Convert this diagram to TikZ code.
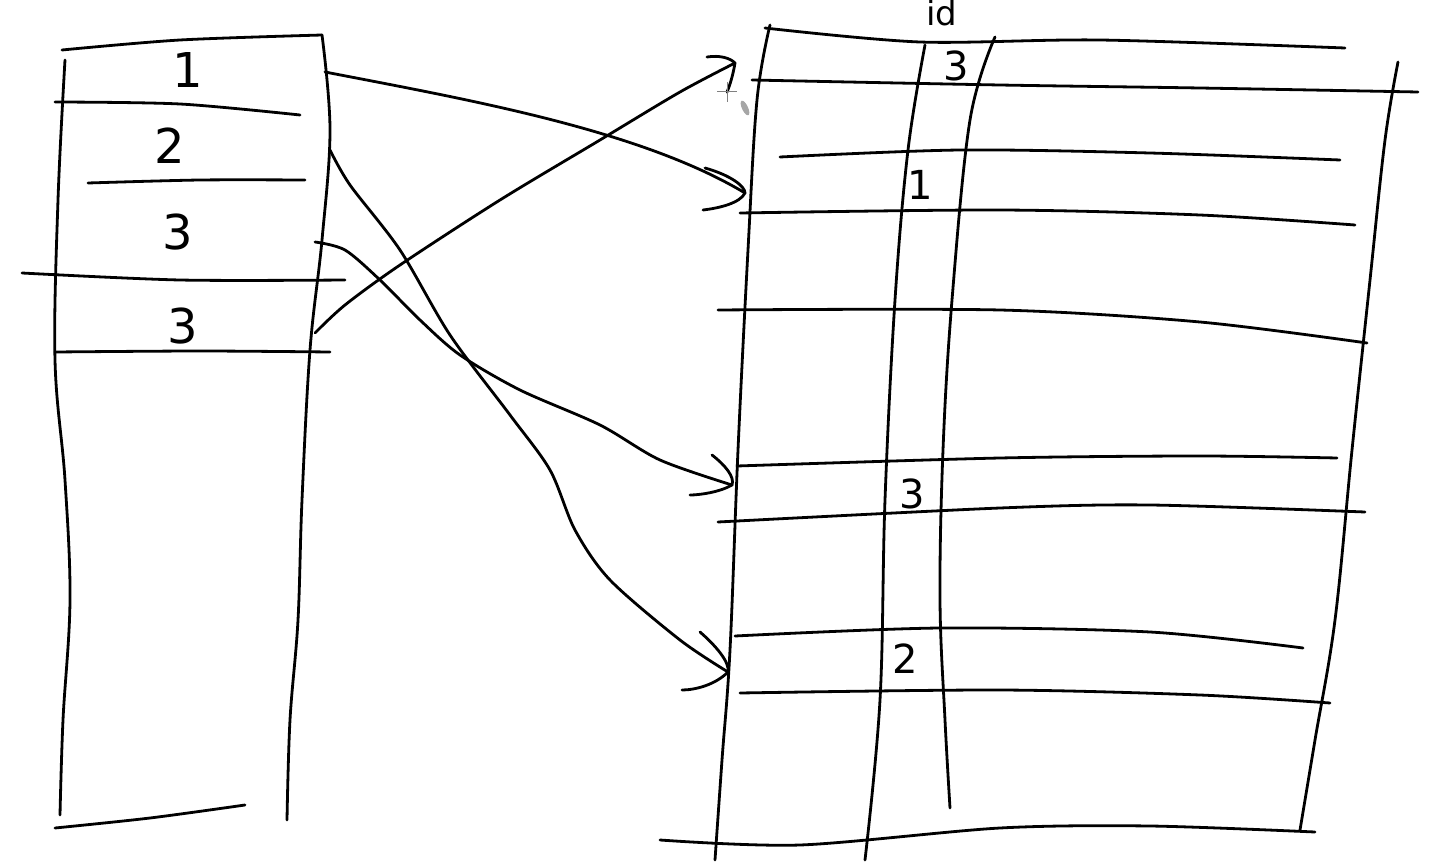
\documentclass[tikz,border=0pt]{standalone}
\usepackage{fontspec}
\setsansfont{DejaVu Sans}
\begin{document}
\begin{tikzpicture}[x=1pt,y=-1pt,
  pen/.style={line width=2.8pt,line cap=round,line join=round,black},
  digitL/.style={font=\sffamily\fontsize{48}{48}\selectfont,inner sep=0pt},
  digitR/.style={font=\sffamily\fontsize{40}{40}\selectfont,inner sep=0pt}]
\useasboundingbox (0,0) rectangle (1430,864);
% ---------- left table ----------
\draw[pen] plot[smooth,tension=0.6] coordinates {(65,60) (58,200) (55,360) (65,480) (70,600) (63,720) (60,815)};
\draw[pen] plot[smooth,tension=0.6] coordinates {(322,35) (330,130) (322,240) (310,350) (302,500) (298,620) (290,720) (287,820)};
\draw[pen] plot[smooth] coordinates {(62,50) (180,40) (322,35)};
\draw[pen] plot[smooth] coordinates {(55,102) (180,104) (300,115)};
\draw[pen] plot[smooth] coordinates {(88,183) (200,180) (305,180)};
\draw[pen] plot[smooth] coordinates {(22,273) (180,280) (345,280)};
\draw[pen] plot[smooth] coordinates {(55,352) (200,351) (330,352)};
\draw[pen] plot[smooth] coordinates {(55,828) (150,818) (245,805)};
\node[digitL] (L1) at (188,70) {1};
\node[digitL] (L2) at (170,146) {2};
\node[digitL] (L3) at (178,232) {3};
\node[digitL] (L4) at (183,326) {3};
% ---------- right table ----------
\draw[pen] plot[smooth,tension=0.6] coordinates {(770,25) (757,100) (748,250) (738,450) (730,650) (722,760) (715,860)};
\draw[pen] plot[smooth,tension=0.6] coordinates {(925,45) (908,150) (895,300) (885,500) (880,700) (865,860)};
\draw[pen] plot[smooth,tension=0.6] coordinates {(995,37) (970,120) (952,300) (943,450) (940,600) (945,720) (950,808)};
\draw[pen] plot[smooth,tension=0.6] coordinates {(1398,62) (1385,140) (1370,280) (1352,450) (1335,620) (1315,740) (1300,830)};
\draw[pen] plot[smooth] coordinates {(765,28) (920,42) (1100,40) (1345,48)};
\draw[pen] plot[smooth] coordinates {(752,80) (1000,85) (1200,88) (1418,92)};
\draw[pen] plot[smooth] coordinates {(780,157) (960,150) (1150,153) (1340,160)};
\draw[pen] plot[smooth] coordinates {(740,213) (1000,210) (1200,215) (1355,225)};
\draw[pen] plot[smooth] coordinates {(718,310) (1000,310) (1200,322) (1367,343)};
\draw[pen] plot[smooth] coordinates {(737,466) (1000,458) (1200,456) (1337,458)};
\draw[pen] plot[smooth] coordinates {(718,522) (1000,508) (1150,505) (1365,512)};
\draw[pen] plot[smooth] coordinates {(735,636) (940,628) (1150,632) (1303,648)};
\draw[pen] plot[smooth] coordinates {(740,693) (1000,690) (1200,695) (1330,703)};
\draw[pen] plot[smooth] coordinates {(660,840) (800,845) (1000,828) (1150,826) (1315,832)};
\node[font=\sffamily\fontsize{34}{34}\selectfont,inner sep=0pt] (id) at (942,13) {id};
\node[digitR] (R3a) at (956,66) {3};
\node[digitR] (R1) at (920,185) {1};
\node[digitR] (R3b) at (912,494) {3};
\node[digitR] (R2) at (905,659) {2};
% ---------- connector ends ----------
\coordinate (s1) at (325,72);
\coordinate (s2) at (330,150);
\coordinate (s3) at (315,242);
\coordinate (s4) at (315,333);
\coordinate (e1) at (745,193);
\coordinate (e2) at (728,672);
\coordinate (e3) at (732,485);
\coordinate (e4) at (735,63);
% connector 1 -> row with 1
\draw[pen] (s1) .. controls (470,100) and (640,130) .. (e1);
\draw[pen] (705,168) .. controls (730,175) and (745,186) .. (e1) .. controls (740,203) and (720,208) .. (703,210);
% connector 2 -> row with 2
\draw[pen] plot[smooth] coordinates {(s2) (350,185) (400,250) (450,335) (510,415) (550,470) (575,530) (610,580) (680,640) (e2)};
\draw[pen] (700,632) .. controls (715,645) and (730,662) .. (e2) .. controls (715,685) and (695,690) .. (682,690);
% connector 3 -> row with 3
\draw[pen] plot[smooth] coordinates {(s3) (345,250) (380,280) (420,320) (460,355) (520,390) (600,425) (660,460) (e3)};
\draw[pen] (712,455) .. controls (725,465) and (735,477) .. (e3) .. controls (720,492) and (700,495) .. (690,495);
% connector 4 -> top row with 3
\draw[pen] plot[smooth] coordinates {(s4) (345,305) (400,265) (500,200) (600,140) (680,92) (e4)};
\draw[pen] (707,57) .. controls (720,55) and (730,58) .. (e4) .. controls (733,75) and (730,85) .. (727,92);
% cursor marks
\draw[gray,line width=1pt] (717,92) -- (737,92) (727,82) -- (727,102);
\fill[gray!70] (745,108) ellipse[x radius=3pt,y radius=8pt,rotate=25];
\end{tikzpicture}
\end{document}
